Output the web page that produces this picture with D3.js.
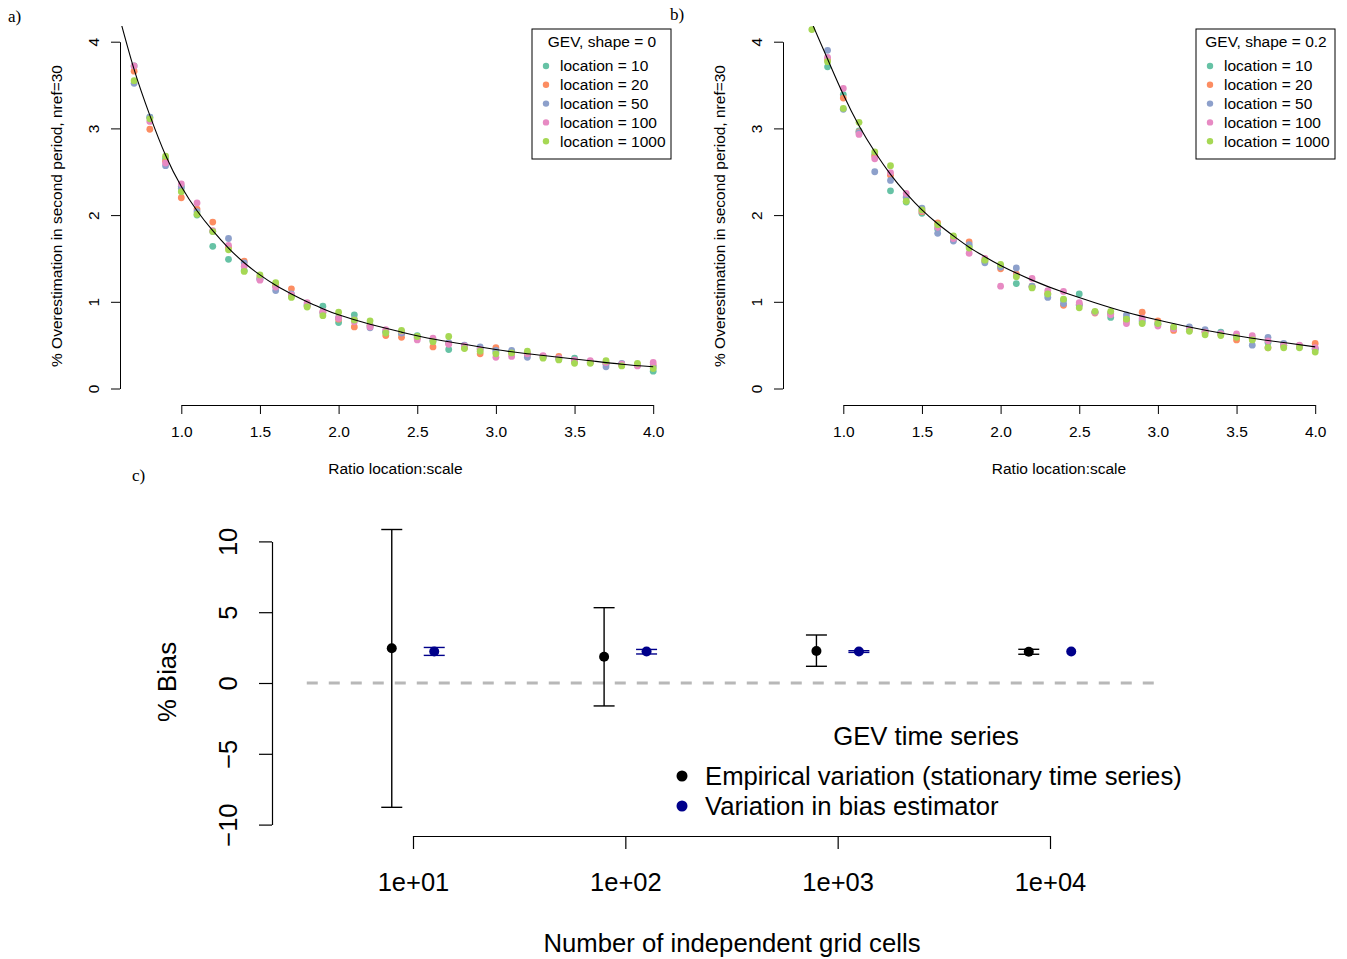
<!DOCTYPE html>
<html>
<meta charset="utf-8">
<style>
  body { margin: 0; background: #fff; }
  svg { font-family: "Liberation Sans", Arial, sans-serif; }
  .tag { font-family: "Liberation Serif", "Times New Roman", serif; font-size: 17px; }
</style>
<body>
<script src="https://cdn.jsdelivr.net/npm/d3@7"></script>
<svg id="fig" width="1347" height="959"></svg>
<script>
// ---- data ----
var locLabels = ["location = 10", "location = 20", "location = 50", "location = 100", "location = 1000"];
var locColors = ["#66C2A5", "#FC8D62", "#8DA0CB", "#E78AC3", "#A6D854"];

// panel a: GEV, shape = 0
var ratioA = [0.7,0.8,0.9,1.0,1.1,1.2,1.3,1.4,1.5,1.6,1.7,1.8,1.9,2.0,2.1,2.2,2.3,2.4,2.5,2.6,2.7,2.8,2.9,3.0,3.1,3.2,3.3,3.4,3.5,3.6,3.7,3.8,3.9,4.0];
var a10   = [3.72,3.13,2.65,2.33,2.00,1.64,1.49,1.36,1.27,1.18,1.07,0.96,0.95,0.76,0.85,0.73,0.66,0.63,0.61,0.55,0.45,0.48,0.46,0.42,0.42,0.40,0.37,0.34,0.35,0.30,0.28,0.28,0.27,0.20];
var a20   = [3.66,2.99,2.62,2.20,2.07,1.92,1.63,1.47,1.29,1.19,1.15,0.95,0.88,0.80,0.71,0.72,0.61,0.59,0.58,0.48,0.52,0.47,0.40,0.47,0.40,0.39,0.37,0.37,0.31,0.30,0.29,0.27,0.28,0.27];
var a50   = [3.52,3.13,2.57,2.31,2.04,1.81,1.73,1.45,1.26,1.13,1.09,0.97,0.87,0.82,0.80,0.70,0.65,0.64,0.59,0.56,0.53,0.50,0.48,0.44,0.44,0.36,0.36,0.35,0.32,0.31,0.25,0.29,0.27,0.25];
var a100  = [3.72,3.08,2.60,2.36,2.14,1.82,1.65,1.41,1.25,1.17,1.08,0.99,0.89,0.81,0.77,0.71,0.68,0.66,0.56,0.58,0.51,0.49,0.45,0.36,0.37,0.40,0.38,0.35,0.33,0.32,0.30,0.28,0.26,0.30];
var a1000 = [3.55,3.11,2.68,2.27,2.01,1.81,1.60,1.35,1.31,1.22,1.05,0.94,0.84,0.88,0.79,0.78,0.64,0.67,0.60,0.54,0.60,0.46,0.43,0.40,0.41,0.43,0.35,0.33,0.29,0.29,0.32,0.26,0.29,0.23];
var fitAx = [0.60,0.7,0.8,0.9,1.0,1.1,1.2,1.3,1.4,1.5,1.6,1.7,1.8,1.9,2.0,2.2,2.4,2.6,2.8,3.0,3.2,3.4,3.6,3.8,4.0];
var fitAy = [4.33,3.68,3.15,2.69,2.33,2.05,1.82,1.62,1.45,1.31,1.19,1.09,1.00,0.92,0.85,0.74,0.65,0.57,0.51,0.45,0.40,0.36,0.32,0.28,0.25];

// panel b: GEV, shape = 0.2
var ratioB = [0.8,0.9,1.0,1.1,1.2,1.3,1.4,1.5,1.6,1.7,1.8,1.9,2.0,2.1,2.2,2.3,2.4,2.5,2.6,2.7,2.8,2.9,3.0,3.1,3.2,3.3,3.4,3.5,3.6,3.7,3.8,3.9,4.0];
var b10   = [null,3.71,3.39,2.97,2.70,2.28,2.15,2.02,1.84,1.74,1.64,1.47,1.41,1.21,1.17,1.08,1.02,1.09,0.88,0.82,0.81,0.77,0.74,0.70,0.69,0.66,0.65,0.60,0.58,0.53,0.50,0.49,0.45];
var b20   = [null,3.79,3.35,2.96,2.68,2.46,2.20,2.04,1.91,1.72,1.69,1.47,1.38,1.32,1.18,1.10,0.96,0.97,0.87,0.86,0.78,0.88,0.78,0.67,0.68,0.65,0.63,0.56,0.57,0.47,0.49,0.49,0.52];
var b50   = [null,3.90,3.22,2.95,2.50,2.40,2.21,2.08,1.79,1.70,1.66,1.45,1.40,1.39,1.18,1.05,0.98,0.96,0.88,0.87,0.85,0.79,0.75,0.70,0.71,0.68,0.64,0.61,0.50,0.59,0.52,0.48,0.46];
var b100  = [null,3.82,3.46,2.93,2.65,2.49,2.25,2.05,1.86,1.73,1.56,1.50,1.18,1.30,1.27,1.13,1.12,0.99,0.88,0.85,0.75,0.81,0.72,0.69,0.68,0.65,0.63,0.63,0.61,0.55,0.50,0.50,0.47];
var b1000 = [4.14,3.77,3.23,3.07,2.73,2.57,2.16,2.06,1.89,1.76,1.62,1.48,1.43,1.29,1.16,1.09,1.03,0.93,0.89,0.89,0.80,0.75,0.75,0.71,0.66,0.62,0.61,0.59,0.56,0.47,0.47,0.47,0.42];
var fitBx = [0.78,0.8,0.9,1.0,1.1,1.2,1.3,1.4,1.5,1.6,1.7,1.8,1.9,2.0,2.2,2.4,2.6,2.8,3.0,3.2,3.4,3.6,3.8,4.0];
var fitBy = [4.33,4.22,3.80,3.39,3.03,2.73,2.47,2.25,2.06,1.90,1.76,1.63,1.52,1.42,1.25,1.11,0.99,0.88,0.79,0.71,0.64,0.58,0.53,0.48];

var ratioTicks = [1.0,1.5,2.0,2.5,3.0,3.5,4.0];
var overTicks = [0,1,2,3,4];

// panel c: % bias against number of grid cells
var cells    = [10, 100, 1000, 10000];
var empMean  = [2.45, 1.86, 2.26, 2.21];
var empLow   = [-8.78, -1.62, 1.18, 2.03];
var empHigh  = [10.84, 5.32, 3.39, 2.38];
var estMean  = [2.22, 2.22, 2.22, 2.22];
var estLow   = [1.95, 2.05, 2.16, 2.22];
var estHigh  = [2.51, 2.37, 2.28, 2.22];
var zeroSpan = [3.16, 31600];
var biasTicks = [-10, -5, 0, 5, 10];
var cellTicks = [10, 100, 1000, 10000];
var cellTickLabels = ["1e+01", "1e+02", "1e+03", "1e+04"];
var biasLegend = ["Empirical variation (stationary time series)", "Variation in bias estimator"];
var biasColors = ["#000000", "#00008B"];

var svg = d3.select("#fig");
svg.append("rect").attr("width", 1347).attr("height", 959).attr("fill", "#fff");

// rotate the labels of a left axis so they run along it (R style)
function rotateLeftLabels(axisG, d) {
  axisG.selectAll(".tick text")
    .attr("transform", "rotate(-90)")
    .attr("x", 0).attr("y", -d).attr("dy", null)
    .attr("text-anchor", "middle");
}

function scatterPanel(cfg) {
  var x = d3.scaleLinear().domain([1, 4]).range([cfg.x1, cfg.x4]);
  var y = d3.scaleLinear().domain([0, 4]).range([388.5, 41.7]);

  svg.append("clipPath").attr("id", "clip" + cfg.id)
    .append("rect").attr("x", cfg.left).attr("y", 26)
    .attr("width", cfg.right - cfg.left).attr("height", 405 - 26);
  var plot = svg.append("g").attr("clip-path", "url(#clip" + cfg.id + ")");

  cfg.series.forEach(function(vals, i) {
    var pts = vals.map(function(v, j) { return [cfg.ratio[j], v]; })
                  .filter(function(d) { return d[1] != null; });
    plot.selectAll(null).data(pts).enter().append("circle")
      .attr("cx", function(d) { return x(d[0]); })
      .attr("cy", function(d) { return y(d[1]); })
      .attr("r", 3.4)
      .attr("fill", locColors[i]);
  });

  var fit = cfg.fitX.map(function(v, j) { return [v, cfg.fitY[j]]; });
  plot.append("path").datum(fit)
    .attr("fill", "none").attr("stroke", "#000").attr("stroke-width", 1.1)
    .attr("d", d3.line().x(function(d) { return x(d[0]); })
                        .y(function(d) { return y(d[1]); })
                        .curve(d3.curveNatural));

  var xa = svg.append("g").attr("transform", "translate(0,405)")
    .call(d3.axisBottom(x).tickValues(ratioTicks).tickFormat(d3.format(".1f"))
      .tickSize(9).tickSizeOuter(0).tickPadding(12));
  var ya = svg.append("g").attr("transform", "translate(" + cfg.left + ",0)")
    .call(d3.axisLeft(y).tickValues(overTicks).tickFormat(d3.format("d"))
      .tickSize(9).tickSizeOuter(0));
  rotateLeftLabels(ya, 21);
  [xa, ya].forEach(function(a) {
    a.selectAll("text").attr("font-size", 15.5).attr("fill", "#000")
      .attr("font-family", "Liberation Sans, Arial, sans-serif");
    a.selectAll("path, line").attr("stroke", "#000");
  });

  svg.append("text").attr("x", (cfg.left + cfg.right) / 2).attr("y", 474)
    .attr("text-anchor", "middle").attr("font-size", 15.5)
    .text("Ratio location:scale");
  svg.append("text")
    .attr("transform", "translate(" + (cfg.left - 58) + ",216) rotate(-90)")
    .attr("text-anchor", "middle").attr("font-size", 15.5)
    .text("% Overestimation in second period, nref=30");

  // legend
  var lx = cfg.right - 139, ly = 29;
  var lg = svg.append("g");
  lg.append("rect").attr("x", lx).attr("y", ly).attr("width", 139).attr("height", 130)
    .attr("fill", "#fff").attr("stroke", "#000").attr("stroke-width", 1);
  lg.append("text").attr("x", lx + 70).attr("y", ly + 13).attr("dy", "0.35em")
    .attr("text-anchor", "middle").attr("font-size", 15.5).text(cfg.title);
  locLabels.forEach(function(lab, i) {
    var yy = ly + 37 + i * 18.8;
    lg.append("circle").attr("cx", lx + 14).attr("cy", yy).attr("r", 3.2).attr("fill", locColors[i]);
    lg.append("text").attr("x", lx + 28).attr("y", yy).attr("dy", "0.35em")
      .attr("font-size", 15.5).text(lab);
  });
}

scatterPanel({ id: "a", x1: 181.3, x4: 653.2, left: 120, right: 671,
  ratio: ratioA, series: [a10, a20, a50, a100, a1000],
  fitX: fitAx, fitY: fitAy, title: "GEV, shape = 0" });
scatterPanel({ id: "b", x1: 843.3, x4: 1315.2, left: 783, right: 1335,
  ratio: ratioB, series: [b10, b20, b50, b100, b1000],
  fitX: fitBx, fitY: fitBy, title: "GEV, shape = 0.2" });

// ---- panel c ----
var cx = d3.scaleLog().domain([10, 10000]).range([413, 1050]);
var cy = d3.scaleLinear().domain([-10, 10]).range([824.6, 541.4]);
var dodge = Math.pow(10, 0.1);

svg.append("line")
  .attr("x1", cx(zeroSpan[0])).attr("x2", cx(zeroSpan[1]))
  .attr("y1", cy(0)).attr("y2", cy(0))
  .attr("stroke", "#b8b8b8").attr("stroke-width", 3).attr("stroke-dasharray", "11,11");

function errorSeries(mean, low, high, shift, color) {
  var g = svg.append("g").attr("stroke", color).attr("stroke-width", 1.4);
  cells.forEach(function(n, i) {
    if (low[i] === high[i]) return; // zero-length bars are not drawn
    var px = cx(n * shift);
    g.append("line").attr("x1", px).attr("x2", px).attr("y1", cy(low[i])).attr("y2", cy(high[i]));
    [low[i], high[i]].forEach(function(v) {
      g.append("line").attr("x1", px - 10.5).attr("x2", px + 10.5).attr("y1", cy(v)).attr("y2", cy(v));
    });
  });
  svg.append("g").selectAll(null).data(mean).enter().append("circle")
    .attr("cx", function(d, i) { return cx(cells[i] * shift); })
    .attr("cy", function(d) { return cy(d); })
    .attr("r", 5).attr("fill", color);
}
errorSeries(empMean, empLow, empHigh, 1 / dodge, biasColors[0]);
errorSeries(estMean, estLow, estHigh, dodge, biasColors[1]);

var cxa = svg.append("g").attr("transform", "translate(0,836)")
  .call(d3.axisBottom(cx).tickValues(cellTicks)
    .tickFormat(function(d, i) { return cellTickLabels[i]; })
    .tickSize(13).tickSizeOuter(0).tickPadding(24));
var cya = svg.append("g").attr("transform", "translate(272,0)")
  .call(d3.axisLeft(cy).tickValues(biasTicks)
    .tickFormat(function(d) { return d < 0 ? "\u2212" + Math.abs(d) : d; })
    .tickSize(13).tickSizeOuter(0));
rotateLeftLabels(cya, 35);
[cxa, cya].forEach(function(a) {
  a.selectAll("text").attr("font-size", 25.5).attr("fill", "#000")
    .attr("font-family", "Liberation Sans, Arial, sans-serif");
  a.selectAll("path, line").attr("stroke", "#000").attr("stroke-width", 1.2);
});

svg.append("text").attr("x", 732).attr("y", 952).attr("text-anchor", "middle")
  .attr("font-size", 25.7).text("Number of independent grid cells");
svg.append("text").attr("transform", "translate(176,682) rotate(-90)")
  .attr("text-anchor", "middle").attr("font-size", 25.7).text("% Bias");

svg.append("text").attr("x", 926).attr("y", 736).attr("dy", "0.35em")
  .attr("text-anchor", "middle").attr("font-size", 25.7).text("GEV time series");
biasLegend.forEach(function(lab, i) {
  var yy = 776 + i * 30;
  svg.append("circle").attr("cx", 682).attr("cy", yy).attr("r", 5.5).attr("fill", biasColors[i]);
  svg.append("text").attr("x", 705).attr("y", yy).attr("dy", "0.35em")
    .attr("font-size", 25.7).text(lab);
});

// panel tags
svg.append("text").attr("class", "tag").attr("x", 8).attr("y", 22).text("a)");
svg.append("text").attr("class", "tag").attr("x", 670).attr("y", 20).text("b)");
svg.append("text").attr("class", "tag").attr("x", 132).attr("y", 481).text("c)");
</script>
</body>
</html>
